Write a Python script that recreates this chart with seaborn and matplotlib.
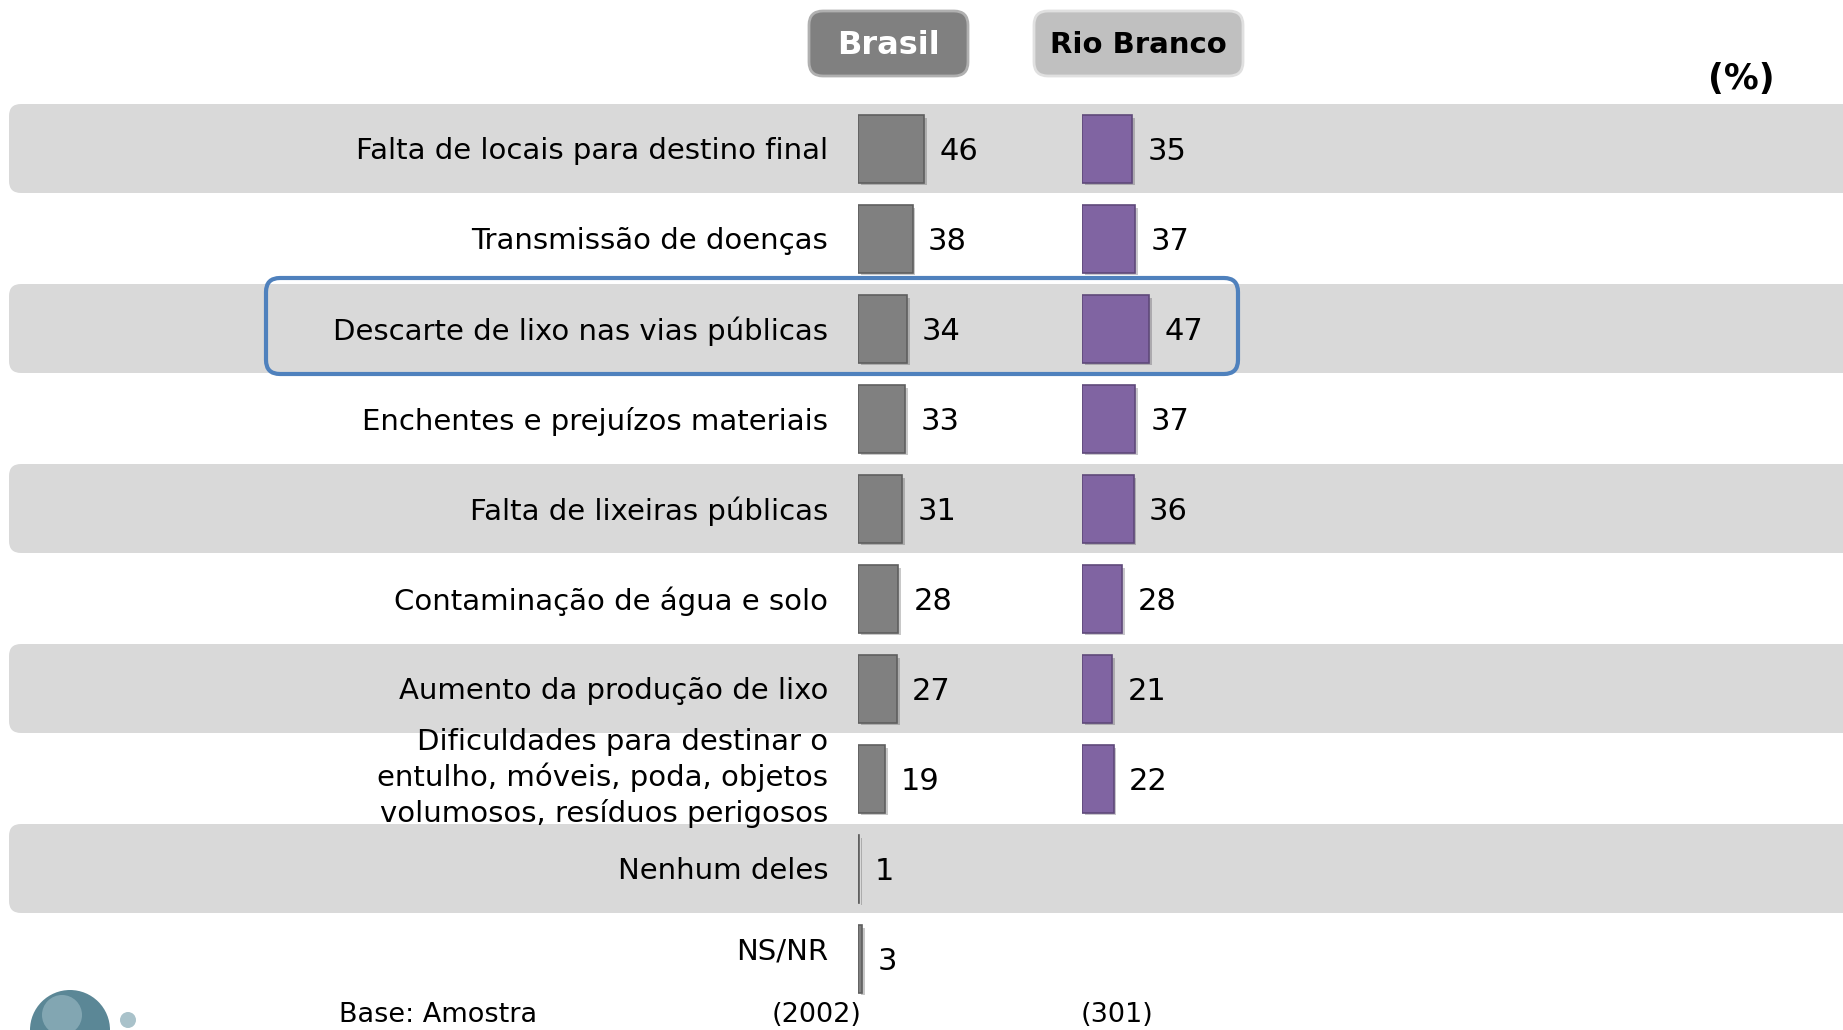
import matplotlib.pyplot as plt
import matplotlib.patheffects as pe
import seaborn as sns
from matplotlib.patches import FancyBboxPatch, Circle

# data (%)
categories = [
    "Falta de locais para destino final",
    "Transmissão de doenças",
    "Descarte de lixo nas vias públicas",
    "Enchentes e prejuízos materiais",
    "Falta de lixeiras públicas",
    "Contaminação de água e solo",
    "Aumento da produção de lixo",
    "Dificuldades para destinar o\nentulho, móveis, poda, objetos\nvolumosos, resíduos perigosos",
    "Nenhum deles",
    "NS/NR",
]
brasil = [46, 38, 34, 33, 31, 28, 27, 19, 1, 3]
rio_cats = categories[:8]
rio_branco = [35, 37, 47, 37, 36, 28, 21, 22]
groups = ["Brasil", "Rio Branco"]
base_n = ["(2002)", "(301)"]

sns.set_style("white")
plt.rcParams['font.family'] = ['DejaVu Sans']
plt.rcParams['text.color'] = 'black'

W, H = 1843, 1030
ROW0, PITCH = 149, 90          # row centres in pixels
PX_PER_UNIT = 1.435            # bar length per percentage point
BR_X0, RB_X0 = 858, 1082       # where each group's bars start

fig = plt.figure(figsize=(W / 100, H / 100), dpi=100)

# background layer in pixel coordinates
ax_bg = fig.add_axes([0, 0, 1, 1])
ax_bg.set_xlim(0, W)
ax_bg.set_ylim(H, 0)
ax_bg.axis("off")

def row_y(i):
    return ROW0 + PITCH * i

# alternating grey bands
for i in range(0, len(categories), 2):
    ax_bg.add_patch(FancyBboxPatch((9, row_y(i) - 45), 2000, 89,
                                   boxstyle="round,pad=0,rounding_size=12",
                                   facecolor="#d9d9d9", edgecolor="none", zorder=0))

# highlight around "Descarte de lixo..."
ax_bg.add_patch(FancyBboxPatch((266, row_y(2) - 51), 972, 96,
                               boxstyle="round,pad=0,rounding_size=14",
                               facecolor="none", edgecolor="#4f81bd", lw=3, zorder=3))

# category labels
for i, cat in enumerate(categories):
    dy = {7: -1, 9: -8}.get(i, 2)
    ax_bg.text(828, row_y(i) + dy, cat, ha="right", va="center", fontsize=21,
               linespacing=1.27, color="black", zorder=4)

# header buttons
ax_bg.add_patch(FancyBboxPatch((809, 11), 159, 65, boxstyle="round,pad=0,rounding_size=14",
                               facecolor="#808080", edgecolor="#b0b0b0", lw=2, zorder=2))
ax_bg.text(888.5, 45, groups[0], ha="center", va="center", fontsize=23,
           fontweight="bold", color="white", zorder=3)
ax_bg.add_patch(FancyBboxPatch((1034, 11), 209, 65, boxstyle="round,pad=0,rounding_size=14",
                               facecolor="#c0c0c0", edgecolor="#e0e0e0", lw=2, zorder=2))
ax_bg.text(1138.5, 45, groups[1], ha="center", va="center", fontsize=21,
           fontweight="bold", color="black", zorder=3)
ax_bg.text(1741, 79, "(%)", ha="center", va="center", fontsize=25, fontweight="bold")

# footer
ax_bg.text(339, 1015, "Base: Amostra", ha="left", va="center", fontsize=19.5)
ax_bg.text(817, 1015, base_n[0], ha="center", va="center", fontsize=19.5)
ax_bg.text(1117, 1015, base_n[1], ha="center", va="center", fontsize=19.5)

# small logo in the corner
ax_bg.add_patch(Circle((70, 1030), 40, facecolor="#5b8796", edgecolor="none"))
ax_bg.add_patch(Circle((62, 1015), 20, facecolor="#9dbcc6", edgecolor="none", alpha=0.6))
ax_bg.add_patch(Circle((128, 1020), 8, facecolor="#a9c2ca", edgecolor="none"))

# bar layers, y in row units so rows line up with the pixel layer
ylim = ((H - ROW0) / PITCH, -ROW0 / PITCH)

def bar_axes(x0, x1, cats, values, color, edge):
    ax = fig.add_axes([x0 / W, 0, (x1 - x0) / W, 1])
    sns.barplot(x=values, y=cats, order=categories, orient="h", color=color,
                width=0.745, edgecolor=edge, linewidth=1.2, errorbar=None,
                saturation=1, ax=ax)
    for p in ax.patches:
        p.set_path_effects([pe.SimplePatchShadow(offset=(2, -2), alpha=0.25), pe.Normal()])
    labels = ax.bar_label(ax.containers[0], padding=11, fontsize=22, color="black")
    for t in labels:
        t.set_y(-2)
    ax.set_xlim(0, (x1 - x0) / PX_PER_UNIT)
    ax.set_ylim(*ylim)
    ax.set_facecolor("none")
    ax.axis("off")
    return ax

bar_axes(BR_X0, RB_X0, categories, brasil, "#808080", "#5f5f5f")
bar_axes(RB_X0, W, rio_cats, rio_branco, "#8064a2", "#5f497a")

fig.savefig("out.png", dpi=100)
